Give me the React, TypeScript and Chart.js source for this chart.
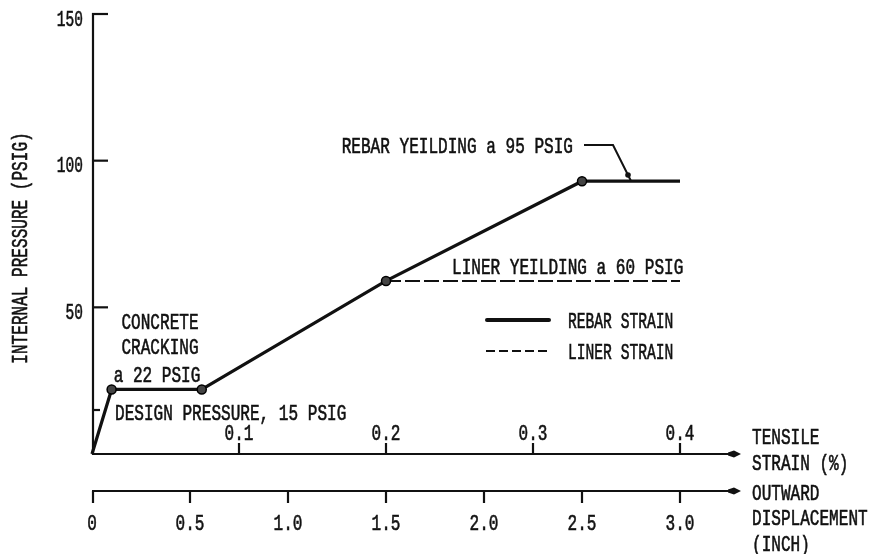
import React, { useEffect, useRef } from "react";
import { Chart, registerables } from "chart.js";

Chart.register(...registerables);

// ---- data ----
const displacementIn = [0, 0.1, 0.56, 1.5, 2.5, 3.0];
const rebarPressure = [0, 22, 22, 59, 93, 93];
const rebarMarkers = [false, true, true, true, true, false];
const linerDisplacementIn = [1.5, 3.0];
const linerPressure = [59, 59];
const pressureTicks = [50, 100, 150];
const designPressure = 15;
const strainTicks = [0.1, 0.2, 0.3, 0.4];
const strainTickLabels = ["0.1", "0.2", "0.3", "0.4"];
const displacementTicks = [0, 0.5, 1.0, 1.5, 2.0, 2.5, 3.0];
const displacementTickLabels = ["0", "0.5", "1.0", "1.5", "2.0", "2.5", "3.0"];
const strainMax = 0.4;
const displacementMax = 3.0;
const pressureMax = 150;

const INK = "#111";
const FONT = '22px "Liberation Mono", "DejaVu Sans Mono", monospace';
const SX = 0.73;

function txt(
  ctx: CanvasRenderingContext2D,
  s: string,
  x: number,
  y: number,
  align: CanvasTextAlign = "left",
  rot = 0,
  sx = SX
) {
  ctx.save();
  ctx.translate(x, y);
  if (rot) ctx.rotate(rot);
  ctx.scale(sx, 1);
  ctx.font = FONT;
  ctx.textAlign = align;
  ctx.textBaseline = "alphabetic";
  ctx.fillStyle = INK;
  ctx.strokeStyle = INK;
  ctx.lineWidth = 0.6;
  ctx.setLineDash([]);
  ctx.fillText(s, 0, 7.5);
  ctx.strokeText(s, 0, 7.5);
  ctx.restore();
}

function seg(ctx: CanvasRenderingContext2D, x1: number, y1: number, x2: number, y2: number) {
  ctx.beginPath();
  ctx.moveTo(x1, y1);
  ctx.lineTo(x2, y2);
  ctx.stroke();
}

function arrow(ctx: CanvasRenderingContext2D, xTip: number, y: number) {
  ctx.beginPath();
  ctx.moveTo(xTip, y);
  ctx.lineTo(xTip - 7, y - 3.5);
  ctx.lineTo(xTip - 13, y - 1.5);
  ctx.lineTo(xTip - 13, y + 1.5);
  ctx.lineTo(xTip - 7, y + 3.5);
  ctx.closePath();
  ctx.fill();
}

const axesPlugin = {
  id: "engAxes",
  beforeDatasetsDraw(chart: any) {
    const { ctx, scales } = chart;
    const x = scales.x;
    const y = scales.y;
    const s = scales.strain;
    const x0 = x.getPixelForValue(0);
    const y0 = y.getPixelForValue(0);
    const axisEnd = 741;
    const yD = y0 + 37;
    ctx.save();
    ctx.strokeStyle = INK;
    ctx.fillStyle = INK;
    ctx.lineWidth = 2.2;
    ctx.lineCap = "butt";

    // y axis
    seg(ctx, x0 + 1, y.getPixelForValue(pressureMax) - 1, x0 + 1, y0 + 1);
    pressureTicks.forEach((v) => {
      const py = y.getPixelForValue(v);
      seg(ctx, x0, py, x0 + 16, py);
      txt(ctx, String(v), 83, py + 4, "right", 0, 0.66);
    });
    // design pressure tick
    const pd = y.getPixelForValue(designPressure);
    seg(ctx, x0, pd, x0 + 8, pd);

    // y title
    txt(ctx, "INTERNAL PRESSURE (PSIG)", 19, 248, "center", -Math.PI / 2);

    // tensile strain axis
    seg(ctx, x0, y0, axisEnd - 10, y0);
    arrow(ctx, axisEnd, y0);
    strainTicks.forEach((v, i) => {
      const px = s.getPixelForValue(v);
      seg(ctx, px, y0, px, y0 - 11);
      txt(ctx, strainTickLabels[i], px, y0 - 22, "center");
    });
    txt(ctx, "TENSILE", 752, 436);
    txt(ctx, "STRAIN (%)", 752, 462);

    // displacement axis
    seg(ctx, x0, yD, axisEnd - 10, yD);
    arrow(ctx, axisEnd, yD);
    displacementTicks.forEach((v, i) => {
      const px = x.getPixelForValue(v);
      seg(ctx, px + (i === 0 ? 1 : 0), yD, px + (i === 0 ? 1 : 0), yD + 12);
      txt(ctx, displacementTickLabels[i], px, yD + 31, "center");
    });
    txt(ctx, "OUTWARD", 752, 492);
    txt(ctx, "DISPLACEMENT", 752, 517);
    txt(ctx, "(INCH)", 752, 543);
    ctx.restore();
  },
  afterDatasetsDraw(chart: any) {
    const { ctx } = chart;
    ctx.save();
    ctx.strokeStyle = INK;
    ctx.fillStyle = INK;

    txt(ctx, "CONCRETE", 160, 321, "center");
    txt(ctx, "CRACKING", 160, 346, "center");
    txt(ctx, "a 22 PSIG", 157, 374, "center");
    txt(ctx, "DESIGN PRESSURE, 15 PSIG", 115, 412);

    txt(ctx, "REBAR YEILDING a 95 PSIG", 573, 145, "right");
    ctx.lineWidth = 2;
    ctx.beginPath();
    ctx.moveTo(584, 145);
    ctx.lineTo(613, 145);
    ctx.lineTo(631, 181);
    ctx.stroke();
    ctx.beginPath();
    ctx.arc(628, 175, 2.8, 0, Math.PI * 2);
    ctx.fill();

    txt(ctx, "LINER YEILDING a 60 PSIG", 452, 266);

    // legend
    ctx.lineWidth = 4;
    ctx.lineCap = "round";
    seg(ctx, 487, 320, 549, 320);
    ctx.lineCap = "butt";
    txt(ctx, "REBAR STRAIN", 568, 320, "left", 0, 0.665);
    ctx.lineWidth = 2;
    ctx.setLineDash([9, 4]);
    seg(ctx, 486, 351, 549, 351);
    ctx.setLineDash([]);
    txt(ctx, "LINER STRAIN", 568, 351, "left", 0, 0.665);
    ctx.restore();
  },
};

export default function App() {
  const ref = useRef<HTMLCanvasElement>(null);
  useEffect(() => {
    if (!ref.current) return;
    const chart = new Chart(ref.current, {
      type: "line",
      data: {
        datasets: [
          {
            label: "REBAR STRAIN",
            data: displacementIn.map((d, i) => ({ x: d, y: rebarPressure[i] })),
            borderColor: INK,
            borderWidth: 3.2,
            pointRadius: rebarMarkers.map((m) => (m ? 4.5 : 0)),
            pointBackgroundColor: "#444",
            pointBorderColor: "#000",
            pointBorderWidth: 1.5,
            tension: 0,
            clip: false,
          } as any,
          {
            label: "LINER STRAIN",
            data: linerDisplacementIn.map((d, i) => ({ x: d, y: linerPressure[i] })),
            borderColor: INK,
            borderWidth: 2,
            borderDash: [15, 4],
            pointRadius: 0,
            tension: 0,
            clip: false,
          } as any,
        ],
      },
      options: {
        responsive: false,
        devicePixelRatio: 1,
        animation: false,
        layout: { padding: { left: 92, right: 192, top: 14, bottom: 100 } },
        scales: {
          x: { type: "linear", min: 0, max: displacementMax, display: false },
          strain: { type: "linear", axis: "x", position: "bottom", min: 0, max: strainMax, display: false },
          y: { type: "linear", min: 0, max: pressureMax, display: false },
        } as any,
        plugins: { legend: { display: false }, tooltip: { enabled: false } },
      },
      plugins: [axesPlugin],
    });
    return () => chart.destroy();
  }, []);
  return (
    <div style={{ position: "fixed", left: 0, top: 0, width: 872, height: 554, background: "#fff" }}>
      <canvas ref={ref} width={872} height={554} style={{ display: "block" }} />
    </div>
  );
}
